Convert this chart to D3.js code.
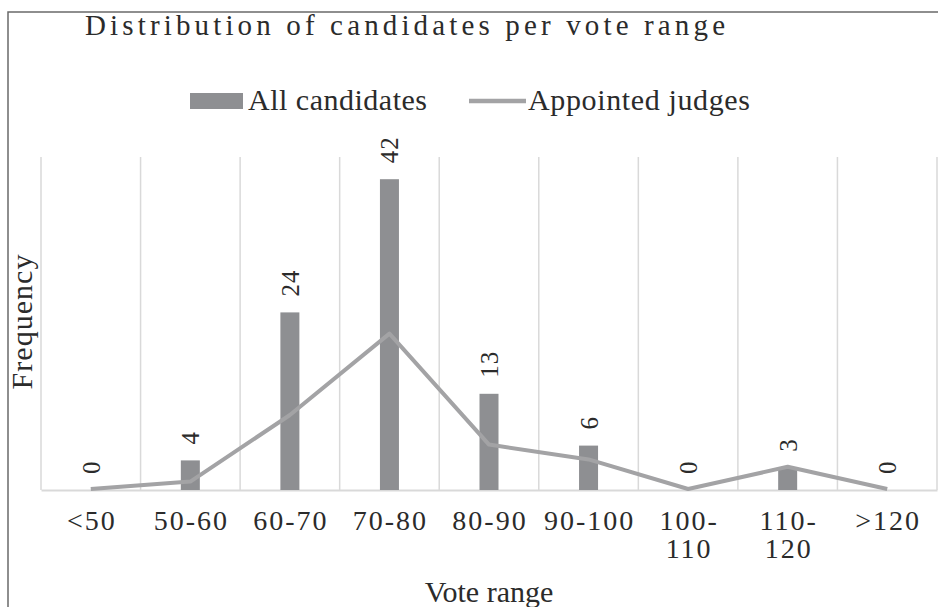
<!DOCTYPE html>
<html>
<head>
<meta charset="utf-8">
<script src="https://cdn.jsdelivr.net/npm/d3@7"></script>
<style>
  html, body { margin: 0; padding: 0; background: #fff; }
  svg { display: block; }
  svg text { font-family: 'Liberation Serif', Tinos, 'Times New Roman', Times, 'DejaVu Serif', serif; fill: #2b2b2b; }
</style>
</head>
<body>
<svg id="chart" width="938" height="607"></svg>
<script>
// ---- data ----
const categories = ["<50", "50-60", "60-70", "70-80", "80-90", "90-100", "100-110", "110-120", ">120"];
const tickLabels = [["<50"], ["50-60"], ["60-70"], ["70-80"], ["80-90"], ["90-100"], ["100-", "110"], ["110-", "120"], [">120"]];
const allCandidates = [0, 4, 24, 42, 13, 6, 0, 3, 0];
const appointedJudges = [0, 1, 10, 21, 6, 4, 0, 3, 0];
const yDomain = [0, 45];
const seriesNames = ["All candidates", "Appointed judges"];
const titleText = "Distribution of candidates per vote range";
const xTitle = "Vote range";
const yTitle = "Frequency";

// ---- layout ----
const W = 938, H = 607;
const plot = { left: 41, right: 937, top: 157, bottom: 490 };
const barColor = "#8e8f92";
const lineColor = "#a3a3a5";
const gridColor = "#d9d9d9";
const serif = "'Liberation Serif', Tinos, 'Times New Roman', Times, 'DejaVu Serif', serif";

const svg = d3.select("#chart");

// frame
svg.append("path")
  .attr("d", `M8,${H + 2} L8,12 L${W + 2},12`)
  .attr("fill", "none").attr("stroke", "#6a6a6a").attr("stroke-width", 1.5);

const x = d3.scaleBand().domain(categories).range([plot.left, plot.right]).paddingInner(0).paddingOuter(0);
const y = d3.scaleLinear().domain(yDomain).range([plot.bottom, plot.top]);

// vertical gridlines at category boundaries
const bounds = categories.map(c => x(c)).concat([plot.right]);
svg.append("g").selectAll("line").data(bounds).join("line")
  .attr("x1", d => d).attr("x2", d => d)
  .attr("y1", plot.top).attr("y2", plot.bottom)
  .attr("stroke", gridColor).attr("stroke-width", 1.5);

// x axis
const xAxis = svg.append("g")
  .attr("transform", `translate(0,${plot.bottom})`)
  .call(d3.axisBottom(x).tickSize(0).tickSizeOuter(0).tickFormat(""));
xAxis.attr("font-family", serif);
xAxis.select(".domain").attr("stroke", gridColor).attr("stroke-width", 2);
xAxis.selectAll(".tick text").remove();
xAxis.selectAll(".tick").each(function(d, i) {
  const t = d3.select(this).append("text")
    .attr("y", 40).attr("text-anchor", "middle")
    .style("font-family", serif)
    .style("font-size", "28px").style("letter-spacing", "2px")
    .attr("fill", "#2b2b2b");
  tickLabels[i].forEach((line, k) => {
    t.append("tspan").attr("x", 1).attr("dy", k === 0 ? 0 : 28).text(line);
  });
});

// bars
const barW = 19;
svg.append("g").selectAll("rect").data(allCandidates).join("rect")
  .attr("x", (d, i) => x(categories[i]) + x.bandwidth() / 2 - barW / 2)
  .attr("y", d => y(d))
  .attr("width", barW)
  .attr("height", d => y(0) - y(d))
  .attr("fill", barColor);

// line
const line = d3.line()
  .x((d, i) => x(categories[i]) + x.bandwidth() / 2)
  .y(d => y(d) - 1);
svg.append("path").datum(appointedJudges)
  .attr("d", line)
  .attr("fill", "none").attr("stroke", lineColor).attr("stroke-width", 4)
  .attr("stroke-linejoin", "round");

// data labels (rotated)
svg.append("g").selectAll("text").data(allCandidates).join("text")
  .attr("transform", (d, i) => `translate(${x(categories[i]) + x.bandwidth() / 2 + 9},${y(d) - 16}) rotate(-90)`)
  .attr("text-anchor", "start")
  .style("font-family", serif)
  .style("font-size", "25px").style("letter-spacing", "1px")
  .text(d => d);

// title
svg.append("text")
  .attr("x", 85).attr("y", 35)
  .attr("textLength", 640).attr("lengthAdjust", "spacing")
  .style("font-family", serif)
  .style("font-size", "29px")
  .text(titleText);

// legend
svg.append("rect").attr("x", 190).attr("y", 93).attr("width", 53).attr("height", 16).attr("fill", barColor);
svg.append("text").attr("x", 248).attr("y", 110)
  .attr("textLength", 179).attr("lengthAdjust", "spacing")
  .style("font-family", serif)
  .style("font-size", "30px").text(seriesNames[0]);
svg.append("line").attr("x1", 469).attr("x2", 526).attr("y1", 101).attr("y2", 101)
  .attr("stroke", lineColor).attr("stroke-width", 4.5);
svg.append("text").attr("x", 528).attr("y", 110)
  .attr("textLength", 222).attr("lengthAdjust", "spacing")
  .style("font-family", serif)
  .style("font-size", "30px").text(seriesNames[1]);

// axis titles
svg.append("text")
  .attr("x", (plot.left + plot.right) / 2).attr("y", 602)
  .attr("text-anchor", "middle")
  .style("font-family", serif).style("font-size", "30px")
  .text(xTitle);
svg.append("text")
  .attr("transform", "translate(32,322) rotate(-90)")
  .attr("text-anchor", "middle")
  .attr("textLength", 135).attr("lengthAdjust", "spacing")
  .style("font-family", serif).style("font-size", "30px")
  .text(yTitle);
</script>
</body>
</html>
